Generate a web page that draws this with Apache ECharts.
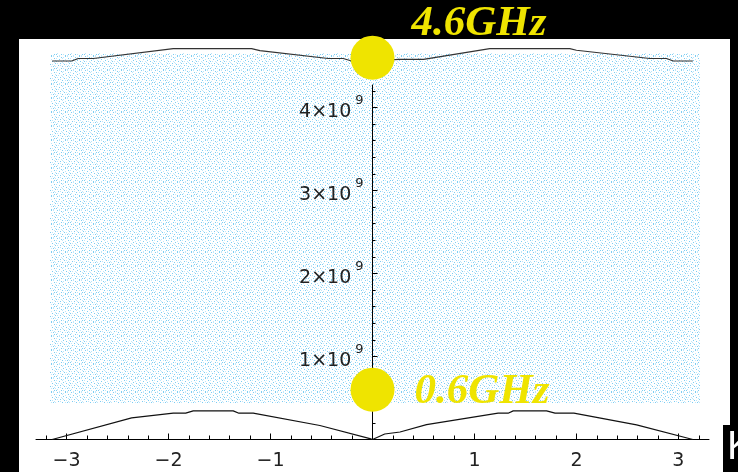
<!DOCTYPE html>
<html>
<head>
<meta charset="utf-8">
<script src="https://cdn.jsdelivr.net/npm/echarts@6/dist/echarts.min.js"></script>
<style>
  html, body { margin: 0; padding: 0; background: #000; }
  #chart { width: 738px; height: 472px; }
</style>
</head>
<body>
<div id="chart"></div>
<script>
// Dispersion branches over the Brillouin zone: wave number k (rad) vs frequency (units of 1e9 Hz)
const lowerK = [-3.1416, -2.362, -1.954, -1.832, -1.758, -1.366, -1.31, -1.17, -0.516, -0.025, 0,
                0.12, 0.27, 0.53, 1.232, 1.33, 1.38, 1.707, 1.79, 1.975, 2.59, 3.1416];
const lowerF = [0, 0.261, 0.317, 0.317, 0.345, 0.345, 0.317, 0.317, 0.169, 0.01, 0,
                0.066, 0.09, 0.18, 0.317, 0.317, 0.345, 0.345, 0.317, 0.317, 0.177, 0];

const upperK = [-3.1416, -2.95, -2.885, -2.738, -1.954, -1.186, -1.104, -0.434, -0.287, -0.205, 0,
                0.26, 0.50, 1.15, 1.935, 2.0, 2.72, 2.883, 2.95, 3.1416];
const upperF = [4.56, 4.56, 4.59, 4.59, 4.71, 4.71, 4.685, 4.59, 4.59, 4.56, 4.56,
                4.58, 4.58, 4.71, 4.71, 4.69, 4.59, 4.59, 4.56, 4.56];

// Marked band-edge frequencies at k = 0
const markK = [0, 0];
const markF = [4.6, 0.6];

// Axis ticks and ranges
const kMin = -3.3, kMax = 3.3;
const fMin = 0, fMax = 4.271;
const xMajor = [-3, -2, -1, 0, 1, 2, 3];
const xLabelValues = [-3, -2, -1, 1, 2, 3];
const yMajor = [1, 2, 3, 4];
const axisTitle = 'K';

const xMinor = [];
for (let i = -16; i <= 16; i++) xMinor.push(Math.round(i * 2) / 10);
const yMinor = [];
for (let i = 1; i <= 21; i++) yMinor.push(Math.round(i * 2) / 10);

const zip = (a, b) => a.map((v, i) => [v, b[i]]);

// Small repeating speckle tile for the plot backdrop
function speckleTile() {
  const c = document.createElement('canvas');
  c.width = 14; c.height = 14;
  const g = c.getContext('2d');
  const strong = [[1,0],[5,1],[9,0],[12,2],[3,3],[7,4],[0,5],[10,5],[4,7],[8,8],[13,7],[2,9],[6,10],[11,10],[0,12],[5,12],[9,13],[12,12]];
  const soft = [[3,0],[7,1],[11,0],[0,2],[6,2],[9,3],[13,4],[2,5],[5,5],[12,6],[1,7],[7,7],[10,8],[4,9],[9,10],[13,10],[1,11],[7,12],[3,13],[11,13],[6,6],[12,9]];
  g.fillStyle = '#bde6fa';
  soft.forEach(([x, y]) => g.fillRect(x, y, 1, 1));
  g.fillStyle = '#7ccdf3';
  strong.forEach(([x, y]) => g.fillRect(x, y, 1, 1));
  return c;
}

const chart = echarts.init(document.getElementById('chart'), null, { renderer: 'canvas' });

const tickFont = { fontFamily: 'DejaVu Sans', fontSize: 19, color: '#222' };
const yellow = '#efe400';
const markLabel = {
  fontFamily: 'Liberation Serif', fontStyle: 'italic', fontWeight: 'bold',
  fontSize: 43, color: yellow
};

// Plot frame: x from 36 to 709 px, frequency zero at y = 439.5 px
const plotLeft = 36, plotRight = 29, plotTop = 85, plotBottom = 32.5;
const zeroX = plotLeft + (0 - kMin) / (kMax - kMin) * (738 - plotLeft - plotRight);

const option = {
  backgroundColor: '#000',
  animation: false,
  graphic: {
    elements: [
      { type: 'rect', z: -3, silent: true, shape: { x: 19, y: 39, width: 711, height: 433 }, style: { fill: '#fff' } },
      { type: 'rect', z: -2, silent: true, shape: { x: 50, y: 53, width: 650, height: 350 }, style: { fill: { image: speckleTile(), repeat: 'repeat' } } },
      { type: 'rect', z: -2, silent: true, shape: { x: 723, y: 425, width: 15, height: 47 }, style: { fill: '#000' } },
      { type: 'text', z: 10, silent: true, left: 727, top: 428,
        style: { text: axisTitle, fontFamily: 'Liberation Sans', fontSize: 40, fill: '#fff' } }
    ]
  },
  grid: [
    // data frame
    { left: plotLeft, right: plotRight, top: plotTop, bottom: plotBottom, outerBoundsMode: 'none' },
    // frequency axis standing at k = 0
    { left: zeroX, width: 1, top: plotTop, bottom: plotBottom, outerBoundsMode: 'none' }
  ],
  xAxis: [
    {
      gridIndex: 0, type: 'value', min: kMin, max: kMax,
      axisLine: { onZero: true, onZeroAxisIndex: 0, lineStyle: { color: '#000', width: 1 } },
      axisTick: { show: true, inside: true, length: 6, customValues: xMajor, lineStyle: { color: '#000' } },
      axisLabel: {
        customValues: xLabelValues, margin: 12, ...tickFont,
        formatter: v => (v < 0 ? '\u2212' + Math.abs(v) : String(v))
      },
      splitLine: { show: false }
    },
    {
      gridIndex: 0, type: 'value', min: kMin, max: kMax, position: 'bottom',
      axisLine: { show: false, onZero: true, onZeroAxisIndex: 0 },
      axisTick: { show: true, inside: true, length: 4, customValues: xMinor, lineStyle: { color: '#000' } },
      axisLabel: { show: false },
      splitLine: { show: false }
    },
    {
      gridIndex: 1, type: 'value', min: 0, max: 1, show: false
    }
  ],
  yAxis: [
    {
      gridIndex: 0, type: 'value', min: fMin, max: fMax, show: false
    },
    {
      gridIndex: 1, type: 'value', min: fMin, max: fMax, position: 'left',
      axisLine: { show: true, onZero: false, lineStyle: { color: '#000', width: 1 } },
      axisTick: { show: true, inside: true, length: 5, customValues: yMajor, lineStyle: { color: '#000' } },
      axisLabel: {
        customValues: yMajor, margin: 9,
        formatter: v => '{m|' + v + '\u00d710}{s|9}',
        rich: {
          m: { fontFamily: 'DejaVu Sans', fontSize: 19, lineHeight: 20, color: '#222', padding: [10, 0, 0, 0] },
          s: { fontFamily: 'DejaVu Sans', fontSize: 13, lineHeight: 14, color: '#222', padding: [0, 0, 13, 4] }
        }
      },
      splitLine: { show: false }
    },
    {
      gridIndex: 1, type: 'value', min: fMin, max: fMax, position: 'left',
      axisLine: { show: false, onZero: false },
      axisTick: { show: true, inside: true, length: 3, customValues: yMinor, lineStyle: { color: '#000' } },
      axisLabel: { show: false },
      splitLine: { show: false }
    }
  ],
  series: [
    {
      name: 'acoustic', type: 'line', xAxisIndex: 0, yAxisIndex: 0,
      data: zip(lowerK, lowerF), showSymbol: false, clip: false, z: 3,
      lineStyle: { color: '#111', width: 1.2 }
    },
    {
      name: 'optical', type: 'line', xAxisIndex: 0, yAxisIndex: 0,
      data: zip(upperK, upperF), showSymbol: false, clip: false, z: 3,
      lineStyle: { color: '#333', width: 1.2 }
    },
    {
      name: 'band edges', type: 'scatter', xAxisIndex: 0, yAxisIndex: 0,
      clip: false, z: 5, symbolSize: 44,
      itemStyle: { color: yellow, opacity: 1 },
      label: {
        show: true, position: 'right', ...markLabel,
        formatter: p => p.value[1].toFixed(1) + 'GHz'
      },
      data: [
        { value: [markK[0], markF[0]], label: { offset: [12, -34] } },
        { value: [markK[1], markF[1]], label: { offset: [15, 2] } }
      ]
    }
  ]
};

chart.setOption(option);
</script>
</body>
</html>
